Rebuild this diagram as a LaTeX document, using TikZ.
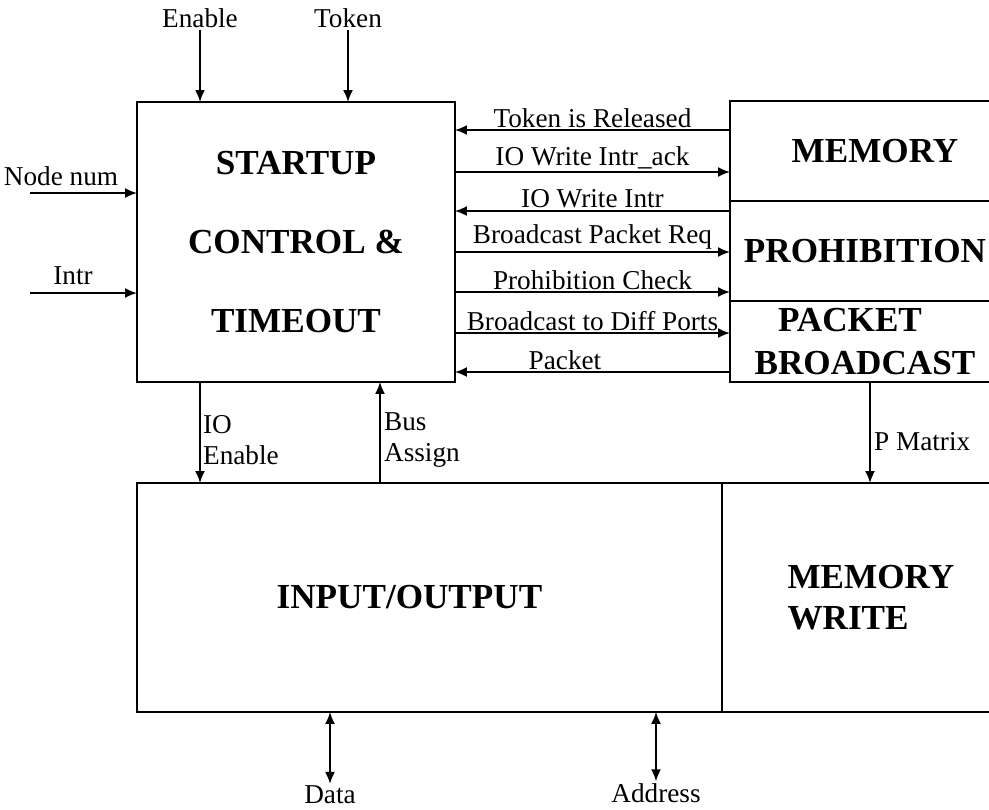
\documentclass[tikz,border=0pt]{standalone}
\usepackage{fontspec}
\setmainfont{Liberation Serif}
\usetikzlibrary{arrows.meta}

\begin{document}
\begin{tikzpicture}[
    x=0.02cm, y=-0.02cm,
    every node/.style={font=\fontsize{15.5}{18}\selectfont, inner sep=1pt},
    blk/.style={draw, line width=1pt, anchor=north west, inner sep=0pt, outer sep=0pt,
        font=\fontsize{20}{24}\selectfont\bfseries},
    sig/.style={line width=1pt, -{Latex[length=2.4mm,width=2mm]}},
    bus/.style={line width=1pt, {Latex[length=2.4mm,width=2mm]}-{Latex[length=2.4mm,width=2mm]}},
]

\useasboundingbox (0,0) rectangle (989,809);
\clip (0,0) rectangle (989,809);

% Blocks
\node[blk, minimum width=6.36cm, minimum height=5.6cm, align=center,
      font=\fontsize{20}{45}\selectfont\bfseries] (ctrl) at (137,102)
      {STARTUP\\CONTROL \&\\TIMEOUT};
\node[blk, minimum width=5.8cm, minimum height=2cm] (mem) at (730,101) {MEMORY};
\node[blk, minimum width=5.8cm, minimum height=2cm] (proh) at (mem.south west)
      {\hspace*{-0.4cm}PROHIBITION};
\node[blk, minimum width=5.8cm, minimum height=1.62cm, align=center] (pbc) at (proh.south west)
      {\hspace*{-1cm}PACKET\\\hspace*{-0.4cm}BROADCAST};
\node[blk, minimum width=11.7cm, minimum height=4.58cm] (io) at (137,483)
      {\hspace*{-0.8cm}INPUT/OUTPUT};
\node[blk, minimum width=5.96cm, minimum height=4.58cm, align=left,
      font=\fontsize{20}{23}\selectfont\bfseries] (mw) at (io.north east) {MEMORY\\WRITE};

% Inputs
\node (enable) at (200,18) {Enable};
\node (token) at (348,18) {Token};
\draw[sig] (enable.south) -- (enable.south |- ctrl.north);
\draw[sig] (token.south) -- (token.south |- ctrl.north);

\node (nodenum) at (61,176) {Node num};
\coordinate (nnin) at (30,193);
\draw[sig] (nnin) -- (nnin -| ctrl.west);
\node (intr) at (73,276) {Intr};
\coordinate (intrin) at (30,293);
\draw[sig] (intrin) -- (intrin -| ctrl.west);

% Signals between control and the right blocks
\foreach \y/\txt/\p in {130/Token is Released/0.5, 211/IO Write Intr/0.5, 372/Packet/0.6}
  \draw[sig] (mem.west |- 0,\y) -- (ctrl.east |- 0,\y) node[pos=\p, above] {\txt};
\foreach \y/\txt in {172/IO Write Intr\_ack, 252/Broadcast Packet Req,
                     292/Prohibition Check, 333/Broadcast to Diff Ports}
  \draw[sig] (ctrl.east |- 0,\y) -- (mem.west |- 0,\y) node[midway, above] {\txt};

% Vertical links
\draw[sig] (enable |- ctrl.south) -- (enable |- io.north);
\draw[sig] (io.north -| 380,0) -- (ctrl.south -| 380,0);
\draw[sig] (pbc.south -| 870,0) -- (mw.north -| 870,0);
\node[anchor=west, align=left] (ioen) at (201,440) {IO\\Enable};
\node[anchor=west, align=left] (busas) at (382,440) {Bus\\Assign};
\node[anchor=west] (pmat) at (872,442) {P Matrix};

% Outputs
\node (data) at (330,795) {Data};
\node (addr) at (656,793) {Address};
\draw[bus] (io.south -| data) -- (data.north);
\draw[bus] (io.south -| addr) -- (addr.north);

\end{tikzpicture}
\end{document}
